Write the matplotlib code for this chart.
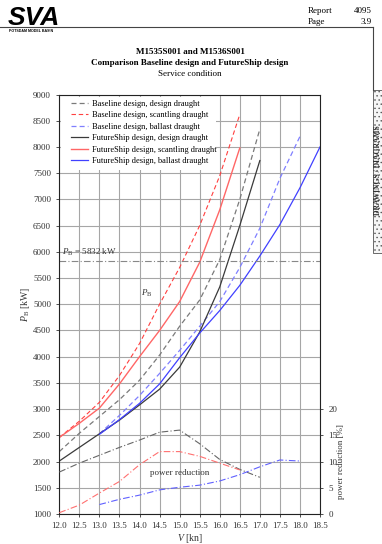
import matplotlib
matplotlib.use('Agg')
import matplotlib.pyplot as plt
from matplotlib.lines import Line2D
from matplotlib.patches import Rectangle

plt.rcParams['font.family'] = ['Liberation Serif', 'DejaVu Serif']
plt.rcParams['mathtext.fontset'] = 'custom'
plt.rcParams['mathtext.rm'] = 'Liberation Serif'
plt.rcParams['mathtext.it'] = 'Liberation Serif:italic'
plt.rcParams['hatch.color'] = '#bbbbbb'
plt.rcParams['hatch.linewidth'] = 0.5

# speeds [kn]
v_design = [12.0, 12.5, 13.0, 13.5, 14.0, 14.5, 15.0, 15.5, 16.0, 16.5, 17.0]
v_scant = [12.0, 12.5, 13.0, 13.5, 14.0, 14.5, 15.0, 15.5, 16.0, 16.5]
v_ballast = [13.0, 13.5, 14.0, 14.5, 15.0, 15.5, 16.0, 16.5, 17.0, 17.5, 18.0]
v_ballast_fs = [13.0, 13.5, 14.0, 14.5, 15.0, 15.5, 16.0, 16.5, 17.0, 17.5, 18.0, 18.5]

# brake power P_B [kW]
base_design = [2190, 2540, 2860, 3180, 3550, 4030, 4580, 5080, 5850, 7000, 8340]
base_scant = [2460, 2770, 3130, 3640, 4250, 5000, 5700, 6500, 7450, 8620]
base_ballast = [2530, 2880, 3260, 3680, 4120, 4580, 5050, 5700, 6450, 7400, 8200]
fs_design = [2010, 2270, 2530, 2790, 3080, 3380, 3800, 4470, 5330, 6500, 7740]
fs_scant = [2460, 2730, 3020, 3480, 4000, 4500, 5050, 5800, 6800, 7980]
fs_ballast = [2520, 2800, 3110, 3480, 3980, 4450, 4880, 5360, 5920, 6520, 7220, 8000]

# power reduction [%]
red_design = [8.0, 9.7, 11.2, 12.7, 14.1, 15.6, 16.0, 13.4, 10.4, 8.5, 7.0]
red_scant = [0.25, 1.7, 4.0, 6.2, 9.4, 11.9, 11.9, 11.0, 9.7, 8.4]
red_ballast = [1.8, 2.8, 3.6, 4.6, 5.1, 5.5, 6.3, 7.5, 9.0, 10.3, 10.1]

pb_limit = 5832

W, H = 382, 544
fig = plt.figure(figsize=(W / 100, H / 100), dpi=100)
ax = fig.add_axes([59.3 / W, 30 / H, 260.7 / W, 419.5 / H])

grey_d = '#7a7a7a'
red_d = '#ff4040'
blue_d = '#7f7fff'
black_s = '#3a3a3a'
red_s = '#ff6666'
blue_s = '#4040ff'

ax.plot(v_design, base_design, color=grey_d, lw=0.9, dashes=(4, 2.5), label='Baseline design, design draught')
ax.plot(v_scant, base_scant, color=red_d, lw=0.8, dashes=(4, 2.5), label='Baseline design, scantling draught')
ax.plot(v_ballast, base_ballast, color=blue_d, lw=0.9, dashes=(4, 2.5), label='Baseline design, ballast draught')
ax.plot(v_design, fs_design, color=black_s, lw=0.9, label='FutureShip design, design draught')
ax.plot(v_scant, fs_scant, color=red_s, lw=1.0, label='FutureShip design, scantling draught')
ax.plot(v_ballast_fs, fs_ballast, color=blue_s, lw=0.9, label='FutureShip design, ballast draught')

ax.axhline(pb_limit, color='#888888', lw=0.8, dashes=(6, 2, 1, 2))

ax.set_xlim(12.0, 18.5)
ax.set_ylim(1000, 9000)
ax.set_xticks([12 + 0.5 * i for i in range(14)])
ax.set_xticklabels([f'{12 + 0.5 * i:.1f}' for i in range(14)])
ax.set_yticks(range(1000, 9001, 500))
ax.set_axisbelow(True)
ax.grid(True, color='#a6a6a6', lw=0.8)
ax.tick_params(labelsize=6.5, length=2.5, width=0.6, colors='#333333', right=True)
for s in ax.spines.values():
    s.set_linewidth(0.8)
    s.set_color('#222222')

# white area behind the legend
ax.add_patch(Rectangle((12.05, 7560), 3.85, 1390, facecolor='white', edgecolor='none', zorder=1))
ax.legend(loc='upper left', bbox_to_anchor=(0.046, 0.988), frameon=False, fontsize=6,
          handlelength=2.0, handletextpad=0.5, labelspacing=0.42, borderpad=0, borderaxespad=0)

ax.text(12.07, 5880, r'$P_\mathrm{B}$ = 5832 kW', fontsize=6.5, color='#333333', va='bottom')
ax.text(14.18, 5210, r'$P_\mathrm{B}$', fontsize=6.5, color='#333333', va='center', ha='center')
ax.text(15.0, 1790, 'power reduction', fontsize=6.5, color='#333333', va='center', ha='center')

ax.set_xlabel(r'$V$ [kn]', fontsize=7, labelpad=1, color='#333333')
ax.set_ylabel(r'$P_\mathrm{B}$ [kW]', fontsize=7, labelpad=1, color='#333333')

ax2 = ax.twinx()
ax2.plot(v_design, red_design, color='#666666', lw=0.8, dashes=(6, 2, 1, 2))
ax2.plot(v_scant, red_scant, color='#ff7070', lw=0.8, dashes=(6, 2, 1, 2))
ax2.plot(v_ballast, red_ballast, color='#6060ff', lw=0.8, dashes=(6, 2, 1, 2))
ax2.set_ylim(0, 80)
ax2.set_yticks([0, 5, 10, 15, 20])
ax2.tick_params(labelsize=6.5, length=2.5, width=0.6, colors='#333333')
for s in ax2.spines.values():
    s.set_visible(False)
ax2.text(1.08, 10 / 80, 'power reduction [%]', transform=ax2.transAxes, rotation=90,
         fontsize=6.5, color='#333333', ha='center', va='center')

# page header
def fx(x):
    return x / W

def fy(y):
    return 1 - y / H

fig.text(fx(190), fy(52), 'M1535S001 and M1536S001', fontsize=6.5, weight='bold', ha='center', va='center')
fig.text(fx(190), fy(63), 'Comparison Baseline design and FutureShip design', fontsize=6.5, weight='bold', ha='center', va='center')
fig.text(fx(190), fy(73.5), 'Service condition', fontsize=6.5, ha='center', va='center')

fig.text(fx(8), fy(25), 'SVA', fontsize=19, weight='bold', style='italic',
         family='Liberation Sans', ha='left', va='baseline')
fig.text(fx(9), fy(31), 'POTSDAM MODEL BASIN', fontsize=2.6, weight='bold',
         family='Liberation Sans', ha='left', va='center')
fig.text(fx(308), fy(11), 'Report', fontsize=6.5, ha='left', va='center')
fig.text(fx(372), fy(11), '4095', fontsize=6.5, ha='right', va='center')
fig.text(fx(308), fy(22), 'Page', fontsize=6.5, ha='left', va='center')
fig.text(fx(372), fy(22), '3.9', fontsize=6.5, ha='right', va='center')

fig.add_artist(Line2D([fx(0), fx(373)], [fy(26.5), fy(26.5)], color='#444444', lw=0.8))
fig.add_artist(Line2D([fx(373), fx(373)], [fy(26.5), fy(90)], color='#444444', lw=0.8))
fig.add_artist(Rectangle((fx(372.5), fy(253)), fx(12), (253 - 90) / H, facecolor='#f6f6f6',
                         edgecolor='#555555', lw=0.6, hatch='....', transform=fig.transFigure))
fig.text(fx(378.5), fy(170), 'DRAWINGS / DIAGRAMS', fontsize=5.5, weight='bold', rotation=90,
         ha='center', va='center', color='#333333')

fig.savefig('out.png', dpi=100)
